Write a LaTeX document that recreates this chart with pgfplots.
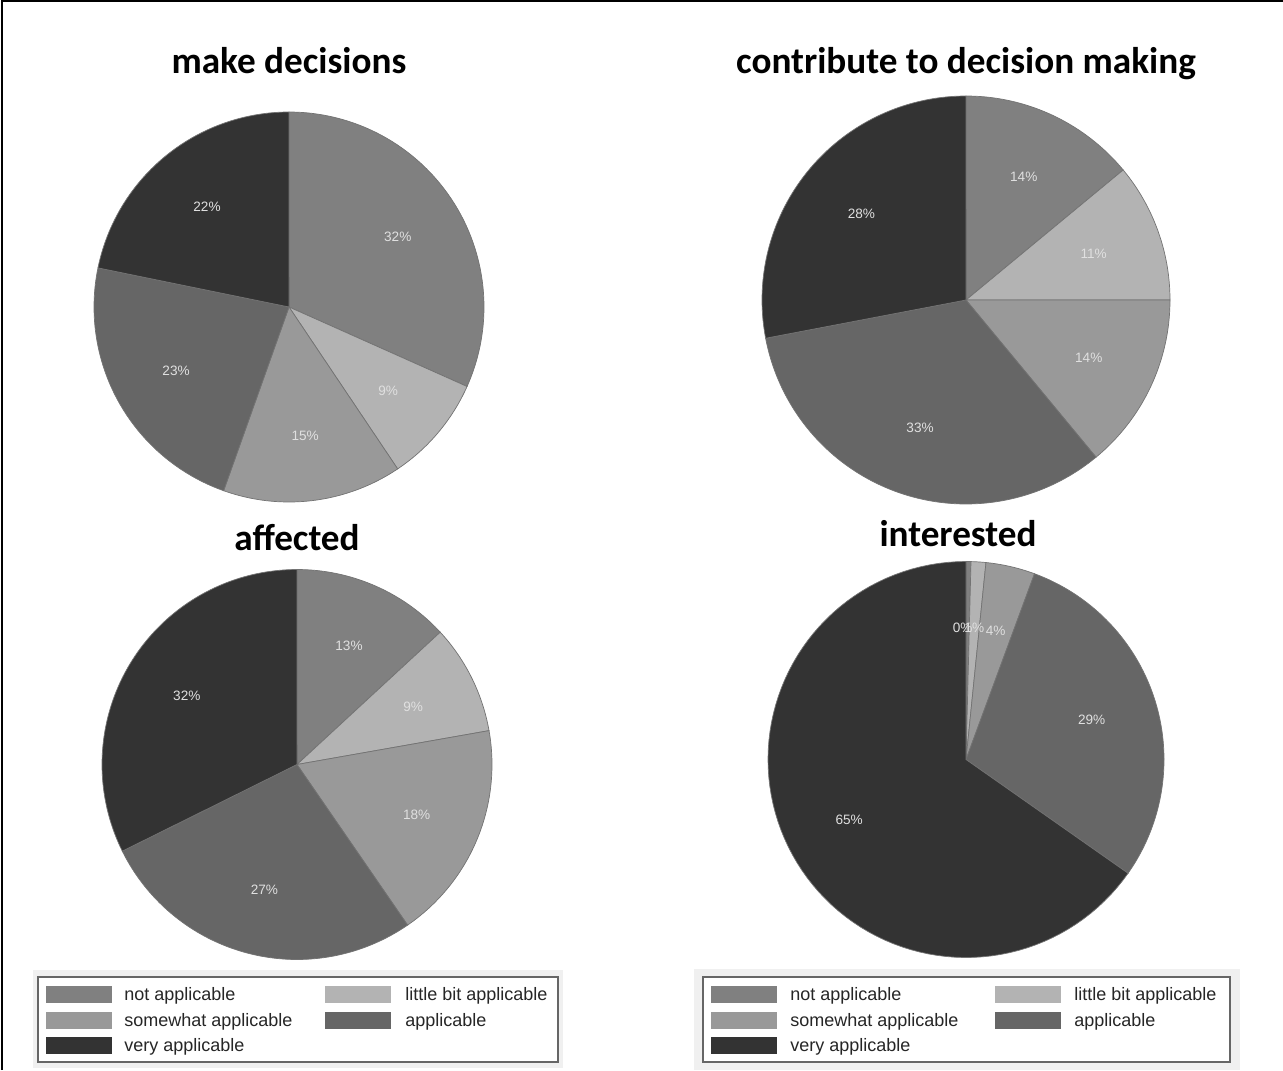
\documentclass[border=0pt]{standalone}
\usepackage{pgfplots}
\pgfplotsset{compat=1.18}
\usepackage{pgfplotstable}
\usepackage{fontspec}
\setmainfont{Liberation Sans}
\newfontfamily\titlefont{Carlito}

% grey shades of the five answer categories
\definecolor{slice0}{HTML}{808080}% not applicable
\definecolor{slice1}{HTML}{B3B3B3}% little bit applicable
\definecolor{slice2}{HTML}{999999}% somewhat applicable
\definecolor{slice3}{HTML}{666666}% applicable
\definecolor{slice4}{HTML}{333333}% very applicable
\definecolor{legbg}{HTML}{F0F0F0}

% shares (percent) of each category, one column per question
\pgfplotstableread{
slice make contrib affected interested
0     32   14      13       0.4
1     9    11      9        1.2
2     15   14      18       4
3     23   33      27       29
4     22   28      32       65
}\piedata

\tikzset{
  slicelabel/.style={font=\fontsize{6.8}{8}\selectfont, text=white!88!black, inner sep=0pt},
  pietitle/.style={font=\titlefont\bfseries\fontsize{18.6}{22}\selectfont, anchor=base, inner sep=0pt},
  legtext/.style={font=\fontsize{9}{11}\selectfont, anchor=base west, inner sep=0pt, text=black!85},
}

\pgfplotsset{
  pie axis/.style={
    anchor=center, scale only axis, hide axis, clip=false,
    xmin=-1, xmax=1, ymin=-1, ymax=1,
  },
}

% one pass over a column: #2=0 draws the slices, #2=1 the percentage labels
\newcommand\piepass[2]{%
  \def\pietotal{0}%
  \pgfplotsforeachungrouped \i in {0,...,4}{%
    \pgfplotstablegetelem{\i}{#1}\of\piedata
    \pgfmathsetmacro\pietotal{\pietotal+\pgfplotsretval}}%
  \def\piestart{90}%
  \pgfplotsforeachungrouped \i in {0,...,4}{%
    \pgfplotstablegetelem{\i}{#1}\of\piedata
    \let\pieval\pgfplotsretval
    \pgfmathsetmacro\pieend{\piestart-360*(\pieval/\pietotal)}%
    \pgfmathsetmacro\piemid{(\piestart+\pieend)/2}%
    % labels of near-empty slices sit a little to the left
    \pgfmathsetmacro\pielx{0.665*cos(\piemid)-0.025*(\pieval<0.5)}%
    \pgfmathsetmacro\piely{0.665*sin(\piemid)}%
    \pgfmathtruncatemacro\pielab{round(\pieval)}%
    \ifnum#2=0
      \edef\piecmd{%
        \noexpand\fill[fill=slice\i, draw=black!55, line width=0.35pt]
          (axis cs:0,0) -- plot[variable=\noexpand\t, domain=\pieend:\piestart, samples=90]
          ({cos(\noexpand\t)},{sin(\noexpand\t)}) -- cycle;}%
    \else
      \edef\piecmd{%
        \noexpand\node[slicelabel] at (axis cs:\pielx,\piely) {\pielab\noexpand\%};}%
    \fi
    \piecmd
    \global\let\piestart\pieend
  }%
}
\newcommand\drawpie[1]{\piepass{#1}{0}\piepass{#1}{1}}

\begin{document}
\begin{tikzpicture}
\begin{scope}[x=0.5pt, y=-0.5pt]
  \useasboundingbox (0,0) rectangle (1283,1070);
  \draw[line width=1pt] (2,1070) -- (2,1) -- (1283,1);

  % titles
  \node[pietitle] at (289,74) {make decisions};
  \node[pietitle] at (966,74) {contribute to decision making};
  \node[pietitle] at (297,550) {affected};
  \node[pietitle] at (958,546) {interested};

  % legends
  \foreach \lx/\ly/\ux/\uy/\bx/\by/\cx/\cy/\sa/\sb/\ta/\tb in
      {33/970/563/1068/38/977/558/1062/46/325/124/405,
       694/969/1240/1070/703/977/1230/1062/711/995/790/1074}{
    \fill[legbg] (\lx,\ly) rectangle (\ux,\uy);
    \draw[black!60, fill=white, line width=0.6pt] (\bx,\by) rectangle (\cx,\cy);
    \fill[slice0] (\sa,986) rectangle ({\sa+66},1003);
    \fill[slice1] (\sb,986) rectangle ({\sb+66},1003);
    \fill[slice2] (\sa,1011.5) rectangle ({\sa+66},1028.5);
    \fill[slice3] (\sb,1011.5) rectangle ({\sb+66},1028.5);
    \fill[slice4] (\sa,1037) rectangle ({\sa+66},1054);
    \node[legtext] at (\ta,1000.5) {not applicable};
    \node[legtext] at (\tb,1000.5) {little bit applicable};
    \node[legtext] at (\ta,1026) {somewhat applicable};
    \node[legtext] at (\tb,1026) {applicable};
    \node[legtext] at (\ta,1051.5) {very applicable};
  }
\end{scope}

\begin{axis}[pie axis, at={(144.5pt,-153.5pt)}, width=195pt, height=195pt]
  \drawpie{make}
\end{axis}
\begin{axis}[pie axis, at={(483pt,-150pt)}, width=204pt, height=204pt]
  \drawpie{contrib}
\end{axis}
\begin{axis}[pie axis, at={(148.5pt,-382.25pt)}, width=195pt, height=195pt]
  \drawpie{affected}
\end{axis}
\begin{axis}[pie axis, at={(483pt,-379.75pt)}, width=198pt, height=198pt]
  \drawpie{interested}
\end{axis}
\end{tikzpicture}
\end{document}
